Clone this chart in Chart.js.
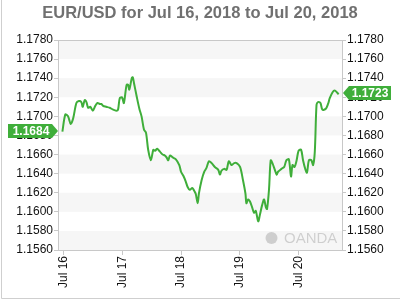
<!DOCTYPE html>
<html>
<head>
<meta charset="utf-8">
<script src="https://cdn.jsdelivr.net/npm/chart.js@4"></script>
<style>
  body { margin: 0; background: #fff; }
  canvas { display: block; }
</style>
</head>
<body>
<canvas id="grafico" width="400" height="300"></canvas>
<script>
// hours counted from Jul 16 00:00
const horas = [
  -0.4, 0.8, 1.9, 3.0, 4.0, 5.3, 6.3, 7.3, 7.9, 8.7, 9.4, 10.1, 11.0, 12.0, 13.0, 13.9, 14.8, 15.5, 16.2, 17.5,
  18.9, 20.3, 21.6, 22.3, 23.0, 23.9, 24.2, 24.7, 25.8, 26.4, 26.9, 27.9, 28.3, 28.8, 29.9, 31.0, 31.9, 32.9, 33.7, 34.6,
  35.7, 36.7, 37.4, 38.3, 39.4, 40.5, 41.4, 42.1, 42.8, 43.5, 44.6, 45.9, 47.3, 48.0, 48.9, 49.9, 50.7, 51.6, 52.6, 53.4,
  54.0, 54.8, 55.3, 56.4, 57.5, 58.4, 59.4, 60.5, 61.8, 63.2, 63.9, 64.5, 65.6, 66.6, 67.5, 68.6, 69.7, 70.7, 72.1, 73.3,
  74.3, 74.7, 75.4, 76.1, 77.0, 77.8, 78.5, 79.5, 80.2, 81.1, 81.9, 82.6, 83.1, 83.9, 84.6, 85.3, 86.3, 87.0, 87.6, 89.0,
  90.1, 91.0, 92.0, 92.9, 93.5, 94.3, 95.1, 96.0, 97.0, 97.8, 98.8, 99.4, 100.2, 101.2, 101.9, 102.6, 103.3, 103.9, 104.9, 105.7,
  107.1, 108.0, 108.7, 109.8, 110.7, 111.7, 112.3
];
const tasas = [
  1.1684, 1.1702, 1.1700, 1.1692, 1.1698, 1.1714, 1.1716, 1.1715, 1.1710, 1.1717, 1.1715, 1.1709, 1.1710, 1.1706, 1.1711, 1.1714, 1.1713, 1.1713, 1.1711, 1.1710,
  1.1709, 1.1707, 1.1706, 1.1707, 1.1719, 1.1720, 1.1718, 1.1714, 1.1733, 1.1733, 1.1728, 1.1740, 1.1741, 1.1735, 1.1721, 1.1708, 1.1700, 1.1686, 1.1683, 1.1665,
  1.1654, 1.1665, 1.1664, 1.1666, 1.1663, 1.1660, 1.1659, 1.1657, 1.1654, 1.1659, 1.1657, 1.1655, 1.1649, 1.1642, 1.1638, 1.1632, 1.1626, 1.1623, 1.1625, 1.1622,
  1.1619, 1.1609, 1.1619, 1.1633, 1.1642, 1.1646, 1.1653, 1.1651, 1.1647, 1.1644, 1.1639, 1.1643, 1.1645, 1.1644, 1.1653, 1.1649, 1.1651, 1.1651, 1.1647, 1.1633,
  1.1619, 1.1609, 1.1613, 1.1611, 1.1605, 1.1599, 1.1601, 1.1590, 1.1597, 1.1607, 1.1613, 1.1605, 1.1603, 1.1623, 1.1654, 1.1651, 1.1644, 1.1639, 1.1642, 1.1645,
  1.1647, 1.1654, 1.1655, 1.1637, 1.1649, 1.1647, 1.1653, 1.1664, 1.1665, 1.1654, 1.1644, 1.1641, 1.1654, 1.1654, 1.1649, 1.1663, 1.1712, 1.1715, 1.1714, 1.1707,
  1.1708, 1.1713, 1.1719, 1.1725, 1.1727, 1.1725, 1.1723
];
const diasTicks = [0, 24, 48, 72, 96];
const diasLabels = ["Jul 16", "Jul 17", "Jul 18", "Jul 19", "Jul 20"];
const yTicks = [1.1560, 1.1580, 1.1600, 1.1620, 1.1640, 1.1660, 1.1680, 1.1700, 1.1720, 1.1740, 1.1760, 1.1780];
const titulo = "EUR/USD for Jul 16, 2018 to Jul 20, 2018";

const VERDE = "#3fae3a";
const GRIS = "#c8c8c8";
const FUENTE = "'Liberation Sans', Arial, sans-serif";

// fondo, franjas, marco, título, marca de agua y etiquetas de valor
const decoracion = {
  id: "decoracion",
  beforeDraw(chart) {
    const ctx = chart.ctx;
    const area = chart.chartArea;
    const y = chart.scales.y;
    ctx.save();
    ctx.fillStyle = "#fff";
    ctx.fillRect(0, 0, chart.width, chart.height);
    // franjas alternas
    ctx.fillStyle = "#f6f6f6";
    for (let i = 0; i < yTicks.length - 1; i += 2) {
      const top = y.getPixelForValue(yTicks[yTicks.length - 1 - i]);
      const bot = y.getPixelForValue(yTicks[yTicks.length - 2 - i]);
      ctx.fillRect(area.left, top, area.right - area.left, bot - top);
    }
    // marco exterior
    ctx.strokeStyle = "#cfcfcf";
    ctx.lineWidth = 1;
    ctx.beginPath();
    ctx.moveTo(1.5, 0);
    ctx.lineTo(1.5, 298.5);
    ctx.lineTo(400, 298.5);
    ctx.stroke();
    // título
    ctx.fillStyle = "#707070";
    ctx.font = "bold 16.5px " + FUENTE;
    ctx.textAlign = "center";
    ctx.textBaseline = "alphabetic";
    ctx.fillText(titulo, 200, 17.5);
    // marca de agua
    ctx.fillStyle = "rgba(0,0,0,0.16)";
    ctx.beginPath();
    ctx.arc(271.5, 238, 6, 0, Math.PI * 2);
    ctx.fill();
    ctx.font = "15px " + FUENTE;
    ctx.textAlign = "left";
    ctx.textBaseline = "middle";
    ctx.fillText("OANDA", 284, 238.5);
    ctx.restore();
  },
  afterDraw(chart) {
    const ctx = chart.ctx;
    const area = chart.chartArea;
    const y = chart.scales.y;
    ctx.save();
    // línea superior del área
    ctx.strokeStyle = GRIS;
    ctx.lineWidth = 1;
    ctx.beginPath();
    ctx.moveTo(area.left, area.top + 0.5);
    ctx.lineTo(area.right, area.top + 0.5);
    ctx.stroke();

    ctx.font = "bold 12px " + FUENTE;
    ctx.textAlign = "center";
    ctx.textBaseline = "middle";

    // etiqueta izquierda (primer valor)
    const y0 = Math.round(y.getPixelForValue(tasas[0])) - 1;
    ctx.fillStyle = VERDE;
    ctx.beginPath();
    ctx.moveTo(8, y0 - 7);
    ctx.lineTo(52, y0 - 7);
    ctx.lineTo(58, y0);
    ctx.lineTo(52, y0 + 7);
    ctx.lineTo(8, y0 + 7);
    ctx.closePath();
    ctx.fill();
    ctx.fillStyle = "#fff";
    ctx.fillText(tasas[0].toFixed(4), 31, y0 + 0.5);

    // etiqueta derecha (último valor)
    const ult = tasas[tasas.length - 1];
    const y1 = Math.round(y.getPixelForValue(ult)) - 1;
    ctx.fillStyle = VERDE;
    ctx.beginPath();
    ctx.moveTo(343, y1);
    ctx.lineTo(349, y1 - 7);
    ctx.lineTo(391, y1 - 7);
    ctx.lineTo(391, y1 + 7);
    ctx.lineTo(349, y1 + 7);
    ctx.closePath();
    ctx.fill();
    ctx.fillStyle = "#fff";
    ctx.fillText(ult.toFixed(4), 370, y1 + 0.5);
    ctx.restore();
  }
};

const ejeY = (pos) => ({
  type: "linear",
  position: pos,
  min: yTicks[0],
  max: yTicks[yTicks.length - 1],
  afterBuildTicks: (axis) => { axis.ticks = yTicks.map((v) => ({ value: v })); },
  afterFit: (axis) => { axis.width = 58; },
  grid: { drawOnChartArea: false, drawTicks: true, tickLength: 4, color: GRIS },
  border: { color: GRIS },
  ticks: {
    padding: 1,
    color: "#111",
    font: { family: FUENTE, size: 12 },
    callback: (v) => Number(v).toFixed(4)
  }
});

new Chart(document.getElementById("grafico"), {
  type: "line",
  data: {
    datasets: [
      {
        data: horas.map((h, i) => ({ x: h, y: tasas[i] })),
        borderColor: VERDE,
        borderWidth: 2,
        pointRadius: 0,
        tension: 0.3,
        fill: false,
        yAxisID: "y"
      }
    ]
  },
  options: {
    responsive: false,
    animation: false,
    devicePixelRatio: 1,
    layout: { padding: { top: 40, left: 0, right: 0, bottom: 0 } },
    plugins: { legend: { display: false }, title: { display: false }, tooltip: { enabled: false } },
    scales: {
      x: {
        type: "linear",
        min: -2.2,
        max: 113.7,
        afterBuildTicks: (axis) => { axis.ticks = diasTicks.map((v) => ({ value: v })); },
        afterFit: (axis) => { axis.height = 50; },
        grid: { drawOnChartArea: false, drawTicks: true, tickLength: 5, color: GRIS },
        border: { color: GRIS },
        ticks: {
          padding: 1,
          minRotation: 90,
          maxRotation: 90,
          color: "#111",
          font: { family: FUENTE, size: 12 },
          callback: (v) => diasLabels[diasTicks.indexOf(v)]
        }
      },
      y: ejeY("left"),
      y2: ejeY("right")
    }
  },
  plugins: [decoracion]
});
</script>
</body>
</html>
